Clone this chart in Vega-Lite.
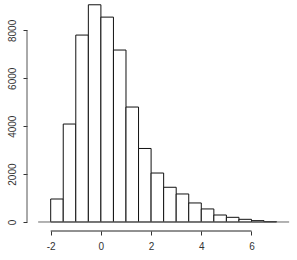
{
  "$schema": "https://vega.github.io/schema/vega-lite/v6.json",
  "width": 263,
  "height": 229,
  "autosize": "none",
  "padding": {"left": 27, "top": 2, "right": 7, "bottom": 29},
  "background": "white",
  "config": {
    "view": {"stroke": null},
    "axis": {
      "grid": false,
      "domain": false,
      "labelFont": "Liberation Sans",
      "labelFontSize": 10,
      "labelColor": "#333",
      "tickColor": "#333",
      "tickWidth": 1
    }
  },
  "layer": [
    {
      "data": {"values": [
        {"bin_start": -2.0, "bin_end": -1.5, "count": 960},
        {"bin_start": -1.5, "bin_end": -1.0, "count": 4090},
        {"bin_start": -1.0, "bin_end": -0.5, "count": 7805},
        {"bin_start": -0.5, "bin_end": 0.0, "count": 9070},
        {"bin_start": 0.0, "bin_end": 0.5, "count": 8555},
        {"bin_start": 0.5, "bin_end": 1.0, "count": 7180},
        {"bin_start": 1.0, "bin_end": 1.5, "count": 4800},
        {"bin_start": 1.5, "bin_end": 2.0, "count": 3070},
        {"bin_start": 2.0, "bin_end": 2.5, "count": 2045},
        {"bin_start": 2.5, "bin_end": 3.0, "count": 1450},
        {"bin_start": 3.0, "bin_end": 3.5, "count": 1170},
        {"bin_start": 3.5, "bin_end": 4.0, "count": 795},
        {"bin_start": 4.0, "bin_end": 4.5, "count": 545},
        {"bin_start": 4.5, "bin_end": 5.0, "count": 292},
        {"bin_start": 5.0, "bin_end": 5.5, "count": 195},
        {"bin_start": 5.5, "bin_end": 6.0, "count": 112},
        {"bin_start": 6.0, "bin_end": 6.5, "count": 56},
        {"bin_start": 6.5, "bin_end": 7.0, "count": 15}
      ]},
      "mark": {"type": "rect", "fill": "white", "stroke": "#111", "strokeWidth": 1},
      "encoding": {
        "x": {"field": "bin_start", "type": "quantitative", "title": null,
              "scale": {"domain": [-2.944, 7.534], "nice": false, "zero": false},
              "axis": {"values": [-2, 0, 2, 4, 6], "tickSize": 4, "labelPadding": 6,
                       "labelExpr": "datum.value < 0 ? '-' + abs(datum.value) : '' + datum.value"}},
        "x2": {"field": "bin_end"},
        "y": {"field": "count", "type": "quantitative", "title": null,
              "scale": {"domain": [-376, 9186], "nice": false, "zero": false},
              "axis": {"values": [0, 2000, 4000, 6000, 8000], "labelAngle": -90,
                       "labelAlign": "center", "labelBaseline": "bottom",
                       "tickSize": 4, "labelPadding": 6, "format": "d"}},
        "y2": {"datum": 0}
      }
    },
    {
      "data": {"values": [{"x": -2.5, "x2": 7.5, "y": 0}]},
      "mark": {"type": "rule", "stroke": "#666", "strokeWidth": 1},
      "encoding": {
        "x": {"field": "x", "type": "quantitative", "title": null},
        "x2": {"field": "x2"},
        "y": {"field": "y", "type": "quantitative", "title": null}
      }
    },
    {
      "data": {"values": [{"x": -2, "x2": 6, "y": -376}]},
      "mark": {"type": "rule", "stroke": "#222", "strokeWidth": 1},
      "encoding": {
        "x": {"field": "x", "type": "quantitative", "title": null},
        "x2": {"field": "x2"},
        "y": {"field": "y", "type": "quantitative", "title": null}
      }
    },
    {
      "data": {"values": [{"x": -2.944, "y": 0, "y2": 8000}]},
      "mark": {"type": "rule", "stroke": "#555", "strokeWidth": 1},
      "encoding": {
        "x": {"field": "x", "type": "quantitative", "title": null},
        "y": {"field": "y", "type": "quantitative", "title": null},
        "y2": {"field": "y2"}
      }
    }
  ]
}
